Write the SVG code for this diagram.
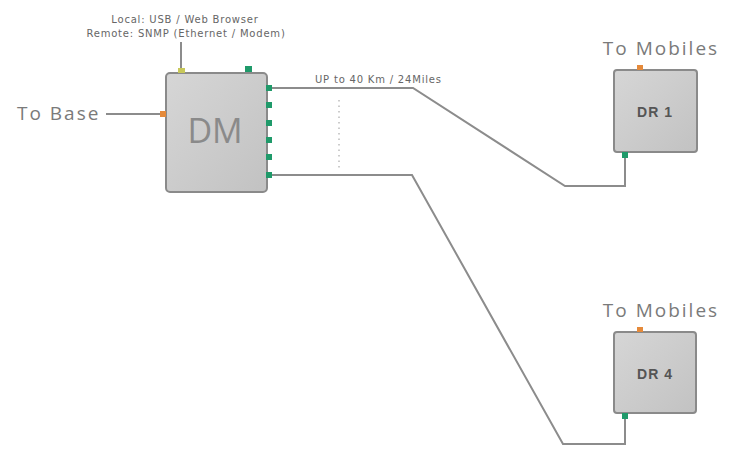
<svg xmlns="http://www.w3.org/2000/svg" width="729" height="449" viewBox="0 0 729 449">
<defs>
<linearGradient id="boxg" x1="0" y1="0" x2="1" y2="1">
<stop offset="0" stop-color="#d6d6d6"/>
<stop offset="1" stop-color="#c2c2c2"/>
</linearGradient>
<style>
.box{fill:url(#boxg);stroke:#8a8a8a;stroke-width:2}
.wire{fill:none;stroke:#8c8c8c;stroke-width:2}
.gp{fill:#1f9a6a}
.op{fill:#e58a3a}
.lbl{font-family:"Open Sans","Liberation Sans",sans-serif;fill:#7a7a7a;font-size:19px;letter-spacing:2px}
.small{font-family:"DejaVu Sans","Liberation Sans",sans-serif;font-size:10px;letter-spacing:0.8px;fill:#666}
.dr{font-family:"Liberation Sans",Arial,sans-serif;font-size:14px;font-weight:bold;letter-spacing:1px;fill:#555;text-anchor:middle}
</style>
</defs>
<rect width="729" height="449" fill="#ffffff"/>
<g id="connectors">
<line class="wire" x1="181" y1="42" x2="181" y2="70"/>
<line class="wire" x1="106" y1="114" x2="163" y2="114"/>
<polyline class="wire" points="268,88 413,88 565,186 625,186 625,156"/>
<polyline class="wire" points="268,175 412,175 563,444 625,444 625,416"/>
<line x1="339" y1="100" x2="339" y2="168" stroke="#999" stroke-width="1" stroke-dasharray="1.5,4"/>
<text class="small" x="315" y="83">UP to 40 Km / 24Miles</text>
</g>
<g id="mgmt-label">
<text class="small" x="185" y="23" text-anchor="middle">Local: USB / Web Browser</text>
<text class="small" x="186" y="37" text-anchor="middle">Remote: SNMP (Ethernet / Modem)</text>
</g>
<g id="to-base">
<text class="lbl" x="17" y="120">To Base</text>
</g>
<g id="DM">
<rect class="box" x="166" y="73" width="101" height="119" rx="4"/>
<text x="215" y="143" font-family="Open Sans, Liberation Sans, sans-serif" font-size="34" fill="#8a8a8a" text-anchor="middle">DM</text>
<rect x="178" y="68" width="7" height="5" fill="#c8c85a"/>
<rect class="op" x="160" y="111" width="6" height="6"/>
<rect class="gp" x="245" y="66" width="7" height="6"/>
<rect class="gp" x="266" y="85" width="6" height="6"/>
<rect class="gp" x="266" y="102" width="6" height="6"/>
<rect class="gp" x="266" y="120" width="6" height="6"/>
<rect class="gp" x="266" y="137" width="6" height="6"/>
<rect class="gp" x="266" y="154" width="6" height="6"/>
<rect class="gp" x="266" y="172" width="6" height="6"/>
</g>
<g id="DR1">
<text class="lbl" x="661" y="55" text-anchor="middle">To Mobiles</text>
<rect class="box" x="614" y="70" width="83" height="82" rx="3"/>
<text class="dr" x="655" y="117">DR 1</text>
<rect class="op" x="637" y="65" width="6" height="5"/>
<rect class="gp" x="622" y="152" width="6" height="6"/>
</g>
<g id="DR4">
<text class="lbl" x="661" y="317" text-anchor="middle">To Mobiles</text>
<rect class="box" x="614" y="332" width="82" height="81" rx="3"/>
<text class="dr" x="655" y="379">DR 4</text>
<rect class="op" x="637" y="327" width="6" height="5"/>
<rect class="gp" x="622" y="413" width="6" height="6"/>
</g>
</svg>
